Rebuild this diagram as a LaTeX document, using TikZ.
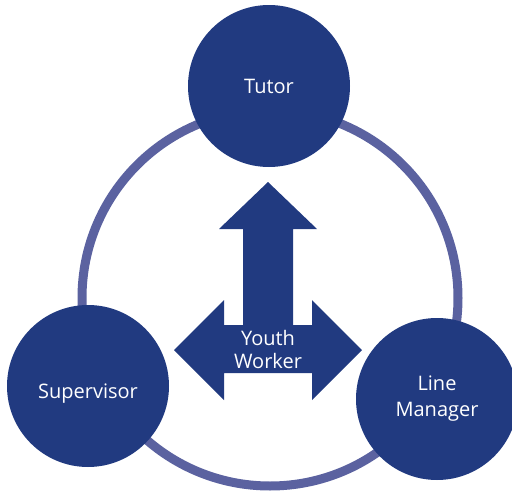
\documentclass[tikz,border=0pt]{standalone}
\usepackage{fontspec}
\setmainfont{Open Sans}
\usepackage{tikz}
\definecolor{roleblue}{HTML}{213A80}
\definecolor{ringblue}{HTML}{5B62A0}

\begin{document}
\begin{tikzpicture}[
    x=1pt, y=-1pt,
    role/.style={circle, fill=roleblue, text=white, minimum size=162pt, inner sep=0pt, align=center, font=\fontsize{20}{26}\selectfont},
    ring/.style={draw=ringblue, line width=9pt},
    bigarrow/.style={fill=roleblue},
    label/.style={text=white, align=center, font=\fontsize{20}{23}\selectfont}
]
    \useasboundingbox (0,0) rectangle (512,498);

    % ring behind the three roles
    \draw[ring] (270,298) circle[radius=188pt];

    \node[role] (tutor) at (269,86) {Tutor};
    \node[role] (supervisor) at (88,386) {\raisebox{-12pt}[0pt][0pt]{Supervisor}};
    \node[role] (manager) at (437,399) {Line\\Manager};

    % arrow block in the middle
    \fill[bigarrow] (268,182) -- (317,229) -- (293,229) -- (293,325) -- (312,325)
        -- (312,300) -- (362,350) -- (312,400) -- (312,373) -- (224,373)
        -- (224,400) -- (174,350) -- (224,300) -- (224,325) -- (243,325)
        -- (243,229) -- (219,229) -- cycle;
    \node[label] (worker) at (268,349) {Youth\\Worker};
\end{tikzpicture}
\end{document}
